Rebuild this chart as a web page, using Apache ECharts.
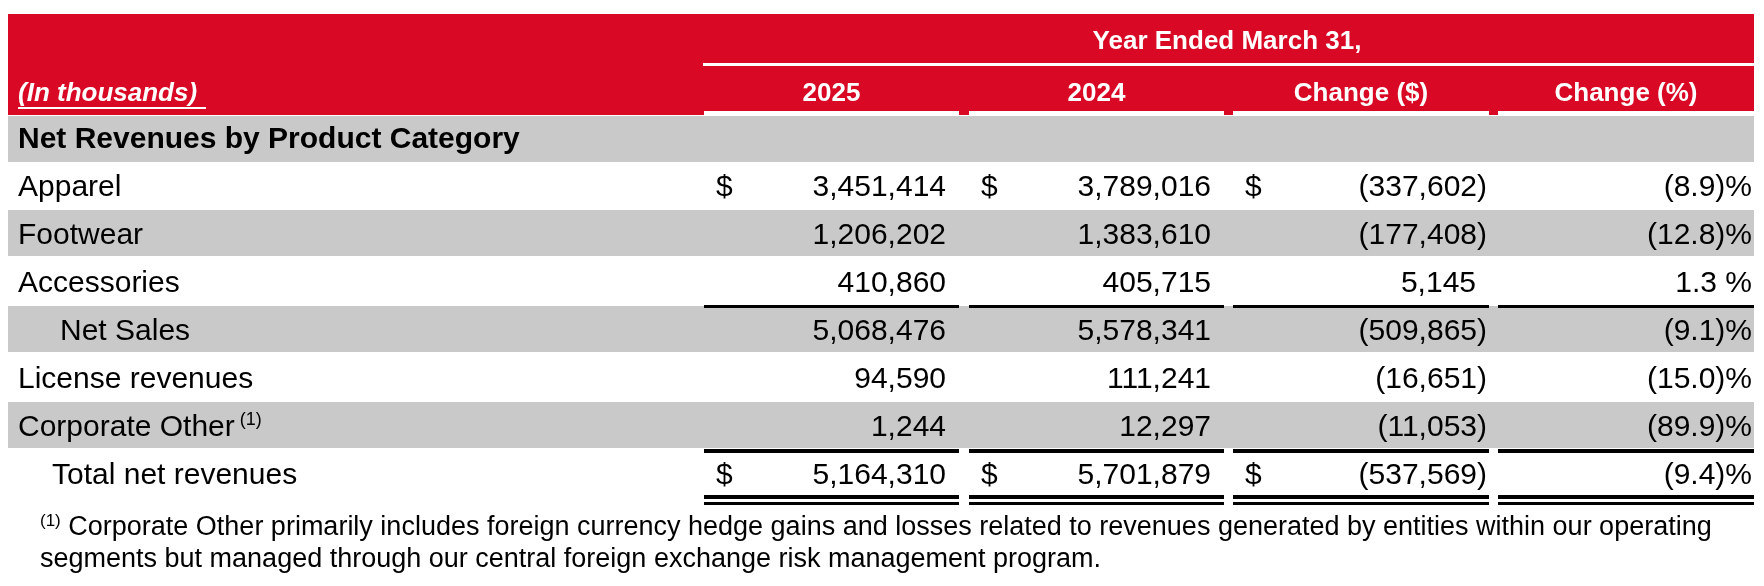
<!DOCTYPE html>
<html>
<head>
<meta charset="utf-8">
<script src="https://cdn.jsdelivr.net/npm/echarts@6/dist/echarts.min.js"></script>
<style>
  html, body { margin: 0; padding: 0; background: #fff; }
  #chart { width: 1764px; height: 586px; }
</style>
</head>
<body>
<div id="chart"></div>
<script>
// table data
const rowLabels = ['Apparel', 'Footwear', 'Accessories', 'Net Sales', 'License revenues', 'Corporate Other', 'Total net revenues']
const rowIndent = [18, 18, 18, 60, 18, 18, 52]
const values2025 = [3451414, 1206202, 410860, 5068476, 94590, 1244, 5164310]
const values2024 = [3789016, 1383610, 405715, 5578341, 111241, 12297, 5701879]
const changeDollar = [-337602, -177408, 5145, -509865, -16651, -11053, -537569]
const changePct = [-8.9, -12.8, 1.3, -9.1, -15.0, -89.9, -9.4]
const colHeaders = ['2025', '2024', 'Change ($)', 'Change (%)']
const dollarRows = [0, 6]
const footnote = [
  'Corporate Other primarily includes foreign currency hedge gains and losses related to revenues generated by entities within our operating',
  'segments but managed through our central foreign exchange risk management program.'
]

const FONT = '"Liberation Sans", Arial, sans-serif'
const RED = '#d90824'
const GREY = '#c9c9c9'
const cols = [[704, 959], [969, 1224], [1233, 1489], [1498, 1754]]
const rowTop = 162
const rowH = 48

function fmt (v) {
  const s = Math.abs(v).toLocaleString('en-US')
  return v < 0 ? '(' + s + ')' : s + ' '
}
function fmtPct (v) {
  const s = Math.abs(v).toFixed(1)
  return v < 0 ? '(' + s + ')%' : s + ' %'
}

const g = []
// header
g.push({ type: 'rect', shape: { x: 8, y: 14, width: 1746, height: 101 }, style: { fill: RED } })
g.push({ type: 'rect', shape: { x: 703, y: 63, width: 1051, height: 3 }, style: { fill: '#fff' } })
g.push({ type: 'text', x: 1227, y: 42, style: { text: 'Year Ended March 31,', font: 'bold 26px ' + FONT, fill: '#fff', align: 'center', verticalAlign: 'middle' } })
g.push({ type: 'text', x: 18, y: 94, style: { text: '(In thousands)', font: 'italic bold 26px ' + FONT, fill: '#fff', verticalAlign: 'middle' } })
g.push({ type: 'rect', shape: { x: 18, y: 107, width: 188, height: 2 }, style: { fill: '#fff' } })
cols.forEach((c, i) => {
  g.push({ type: 'rect', shape: { x: c[0], y: 111, width: c[1] - c[0], height: 5 }, style: { fill: '#fff' } })
  g.push({ type: 'text', x: (c[0] + c[1]) / 2, y: 94, style: { text: colHeaders[i], font: 'bold 26px ' + FONT, fill: '#fff', align: 'center', verticalAlign: 'middle' } })
})
// section row
g.push({ type: 'rect', shape: { x: 8, y: 116, width: 1746, height: 46 }, style: { fill: GREY } })
g.push({ type: 'text', x: 18, y: 140, style: { text: 'Net Revenues by Product Category', font: 'bold 30px ' + FONT, fill: '#000', verticalAlign: 'middle' } })

rowLabels.forEach((lab, i) => {
  const y0 = rowTop + i * rowH
  const cy = y0 + rowH / 2 + 2
  if (i % 2 === 1) g.push({ type: 'rect', shape: { x: 8, y: y0, width: 1746, height: rowH - 2 }, style: { fill: GREY } })
  const rich = i === 5
  g.push({ type: 'text', x: rowIndent[i], y: cy, style: rich
    ? { text: '{a|' + lab + '}{s|(1)}', rich: { a: { font: '30px ' + FONT, fill: '#000' }, s: { font: '18px ' + FONT, fill: '#000', padding: [0, 0, 16, 5] } }, verticalAlign: 'middle' }
    : { text: lab, font: '30px ' + FONT, fill: '#000', verticalAlign: 'middle' } })
  const vals = [fmt(values2025[i]), fmt(values2024[i]), fmt(changeDollar[i]), fmtPct(changePct[i])]
  vals.forEach((v, j) => {
    const rightX = j === 3 ? 1752 : cols[j][1] - (v.endsWith(' ') ? 13 : 2)
    g.push({ type: 'text', x: rightX, y: cy, style: { text: v.trim(), font: '30px ' + FONT, fill: '#000', align: 'right', verticalAlign: 'middle' } })
    if (dollarRows.includes(i) && j < 3) {
      g.push({ type: 'text', x: cols[j][0] + 12, y: cy, style: { text: '$', font: '30px ' + FONT, fill: '#000', verticalAlign: 'middle' } })
    }
  })
})
// underlines
cols.forEach(c => {
  const w = c[1] - c[0]
  g.push({ type: 'rect', shape: { x: c[0], y: 305, width: w, height: 3 }, style: { fill: '#000' } })
  g.push({ type: 'rect', shape: { x: c[0], y: 449, width: w, height: 4 }, style: { fill: '#000' } })
  g.push({ type: 'rect', shape: { x: c[0], y: 495, width: w, height: 4 }, style: { fill: '#000' } })
  g.push({ type: 'rect', shape: { x: c[0], y: 502, width: w, height: 3 }, style: { fill: '#000' } })
})
// footnote
g.push({ type: 'text', x: 40, y: 528, style: { text: '{s|(1)}{a| ' + footnote[0] + '}', rich: { a: { font: '27px ' + FONT, fill: '#000' }, s: { font: '17px ' + FONT, fill: '#000', padding: [0, 0, 14, 0] } }, verticalAlign: 'middle' } })
g.push({ type: 'text', x: 40, y: 560, style: { text: footnote[1], font: '27px ' + FONT, fill: '#000', verticalAlign: 'middle' } })

const chart = echarts.init(document.getElementById('chart'))
chart.setOption({ animation: false, graphic: { elements: g } })
</script>
</body>
</html>
